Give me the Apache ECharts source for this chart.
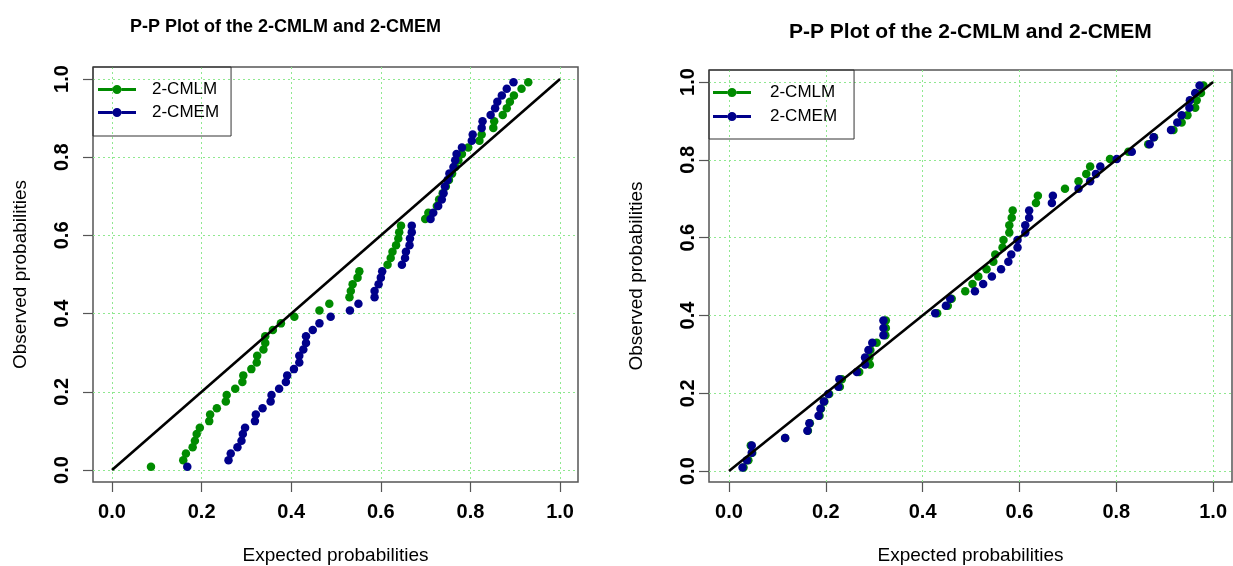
<!DOCTYPE html>
<html>
<head>
<meta charset="utf-8">
<script src="https://cdn.jsdelivr.net/npm/echarts@6/dist/echarts.min.js"></script>
<style>
html, body { margin: 0; padding: 0; background: #fff; }
#chart { width: 1233px; height: 566px; }
</style>
</head>
<body>
<div id="chart"></div>
<script>
const tickValues = [0, 0.2, 0.4, 0.6, 0.8, 1.0];
const seriesNames = ['2-CMLM', '2-CMEM'];
const titleText = 'P-P Plot of the 2-CMLM and 2-CMEM';

// left panel (60 obs): observed probabilities + expected probabilities per model
const probLeft = [0.008,0.025,0.042,0.058,0.075,0.092,0.108,0.125,0.142,0.158,0.175,0.192,0.208,0.225,0.242,0.258,0.275,0.292,0.308,0.325,0.342,0.358,0.375,0.392,0.408,0.425,0.442,0.458,0.475,0.492,0.508,0.525,0.542,0.558,0.575,0.592,0.608,0.625,0.642,0.658,0.675,0.692,0.708,0.725,0.742,0.758,0.775,0.792,0.808,0.825,0.842,0.858,0.875,0.892,0.908,0.925,0.942,0.958,0.975,0.992];
const cmlmLeft = [0.087,0.159,0.165,0.180,0.185,0.189,0.196,0.217,0.219,0.234,0.254,0.256,0.275,0.291,0.293,0.311,0.323,0.324,0.338,0.342,0.342,0.359,0.377,0.407,0.463,0.485,0.530,0.533,0.537,0.548,0.552,0.615,0.622,0.626,0.634,0.639,0.641,0.645,0.699,0.706,0.725,0.730,0.738,0.745,0.752,0.759,0.766,0.773,0.781,0.795,0.820,0.825,0.851,0.853,0.872,0.881,0.888,0.897,0.914,0.929];
const cmemLeft = [0.168,0.260,0.265,0.280,0.289,0.292,0.297,0.319,0.321,0.336,0.354,0.356,0.373,0.388,0.391,0.406,0.418,0.418,0.427,0.433,0.433,0.448,0.463,0.488,0.531,0.550,0.586,0.586,0.595,0.600,0.603,0.647,0.654,0.656,0.664,0.665,0.669,0.669,0.711,0.717,0.728,0.736,0.740,0.743,0.749,0.753,0.762,0.766,0.769,0.781,0.803,0.805,0.825,0.827,0.845,0.855,0.860,0.870,0.881,0.896];

// right panel (53 obs)
const probRight = [0.009,0.028,0.047,0.066,0.085,0.104,0.123,0.142,0.160,0.179,0.198,0.217,0.236,0.255,0.274,0.292,0.311,0.330,0.349,0.368,0.387,0.406,0.425,0.443,0.462,0.481,0.500,0.519,0.538,0.557,0.575,0.594,0.613,0.632,0.651,0.670,0.689,0.708,0.726,0.745,0.764,0.783,0.802,0.821,0.840,0.858,0.877,0.896,0.915,0.934,0.953,0.972,0.991];
const cmlmRight = [0.030,0.040,0.048,0.045,0.116,0.163,0.167,0.187,0.190,0.197,0.207,0.229,0.233,0.269,0.291,0.290,0.292,0.305,0.323,0.324,0.324,0.430,0.452,0.460,0.488,0.503,0.515,0.532,0.546,0.550,0.565,0.567,0.579,0.579,0.584,0.586,0.634,0.638,0.694,0.722,0.738,0.746,0.787,0.825,0.866,0.878,0.918,0.935,0.947,0.963,0.966,0.975,0.980];
const cmemRight = [0.028,0.037,0.047,0.047,0.116,0.162,0.166,0.185,0.189,0.196,0.205,0.226,0.228,0.264,0.281,0.281,0.288,0.296,0.319,0.319,0.319,0.426,0.448,0.457,0.508,0.525,0.543,0.562,0.577,0.583,0.596,0.596,0.612,0.612,0.620,0.620,0.667,0.669,0.722,0.746,0.758,0.767,0.801,0.832,0.869,0.877,0.913,0.926,0.935,0.951,0.952,0.963,0.972];

const diagonal = [[0, 0], [1, 1]];

const GREEN = '#008B00';
const BLUE = '#00008B';
const FONT = "'Liberation Sans', Arial, sans-serif";
// line with a dot in the middle, for the legend
const legendIcon = 'path://M0,3.4 L14.5,3.4 L14.5,6.6 L0,6.6 Z M23.5,3.4 L38,3.4 L38,6.6 L23.5,6.6 Z M19,0.5 A4.5,4.5 0 1 1 18.99,0.5 Z';

function zip(xs, ys) {
    return xs.map((x, i) => [x, ys[i]]);
}

function makeAxis(gridIndex, min, max, isY, labelMargin, name, nameGap) {
    return {
        type: 'value',
        gridIndex: gridIndex,
        min: min,
        max: max,
        name: name,
        nameLocation: 'middle',
        nameGap: nameGap,
        nameRotate: isY ? 90 : 0,
        nameTextStyle: { fontSize: 19, color: '#000', fontFamily: FONT },
        axisLine: { show: false, onZero: false },
        axisTick: {
            show: true, inside: false, length: 10, customValues: tickValues,
            lineStyle: { color: '#555', width: 1.2 }
        },
        axisLabel: {
            customValues: tickValues,
            margin: labelMargin,
            rotate: isY ? 90 : 0,
            fontSize: 20,
            fontWeight: 'bold',
            color: '#000',
            fontFamily: FONT,
            formatter: v => v.toFixed(1)
        },
        splitLine: {
            show: true,
            lineStyle: { color: '#8FE88F', width: 1, type: [2, 3] }
        }
    };
}

function makeSeries(idx, probs, cmlm, cmem) {
    return [
        {
            name: seriesNames[0], type: 'scatter', xAxisIndex: idx, yAxisIndex: idx,
            symbolSize: 8.5, itemStyle: { color: GREEN, opacity: 1 }, z: 2,
            data: zip(cmlm, probs)
        },
        {
            name: seriesNames[1], type: 'scatter', xAxisIndex: idx, yAxisIndex: idx,
            symbolSize: 8.5, itemStyle: { color: BLUE, opacity: 1 }, z: 3,
            data: zip(cmem, probs)
        },
        {
            name: 'diag' + idx, type: 'line', xAxisIndex: idx, yAxisIndex: idx,
            showSymbol: false, silent: true, z: 4,
            lineStyle: { color: '#000', width: 2.6 },
            data: diagonal
        }
    ];
}

function makeLegend(left, top, padding, gap, textPad) {
    return {
        left: left, top: top, orient: 'vertical',
        data: seriesNames,
        icon: legendIcon,
        itemWidth: 38, itemHeight: 10, itemGap: gap,
        padding: padding,
        borderColor: '#333', borderWidth: 1, borderRadius: 0,
        selectedMode: false,
        textStyle: { fontSize: 17, color: '#000', fontFamily: FONT, padding: [0, 0, 0, textPad] }
    };
}

const chart = echarts.init(document.getElementById('chart'));
chart.setOption({
    backgroundColor: '#fff',
    animation: false,
    title: [
        { text: titleText, left: 125, top: 13, textStyle: { fontSize: 18, fontWeight: 'bold', color: '#000', fontFamily: FONT } },
        { text: titleText, left: 784, top: 17, textStyle: { fontSize: 21, fontWeight: 'bold', color: '#000', fontFamily: FONT } }
    ],
    legend: [
        makeLegend(93, 67, [14, 12, 15, 5], 6, 11),
        makeLegend(709, 70, [14, 17, 14, 4], 7, 14)
    ],
    grid: [
        { left: 93, top: 67, width: 485, height: 415, show: true, borderColor: '#555', borderWidth: 1.5, outerBoundsMode: 'none', containLabel: false },
        { left: 709, top: 70, width: 523, height: 412, show: true, borderColor: '#555', borderWidth: 1.5, outerBoundsMode: 'none', containLabel: false }
    ],
    xAxis: [
        makeAxis(0, -0.0424, 1.040, false, 20, 'Expected probabilities', 64),
        makeAxis(1, -0.0413, 1.039, false, 20, 'Expected probabilities', 64)
    ],
    yAxis: [
        makeAxis(0, -0.0307, 1.0307, true, 21, 'Observed probabilities', 63),
        makeAxis(1, -0.028, 1.031, true, 11, 'Observed probabilities', 63)
    ],
    series: makeSeries(0, probLeft, cmlmLeft, cmemLeft).concat(makeSeries(1, probRight, cmlmRight, cmemRight))
});
</script>
</body>
</html>
